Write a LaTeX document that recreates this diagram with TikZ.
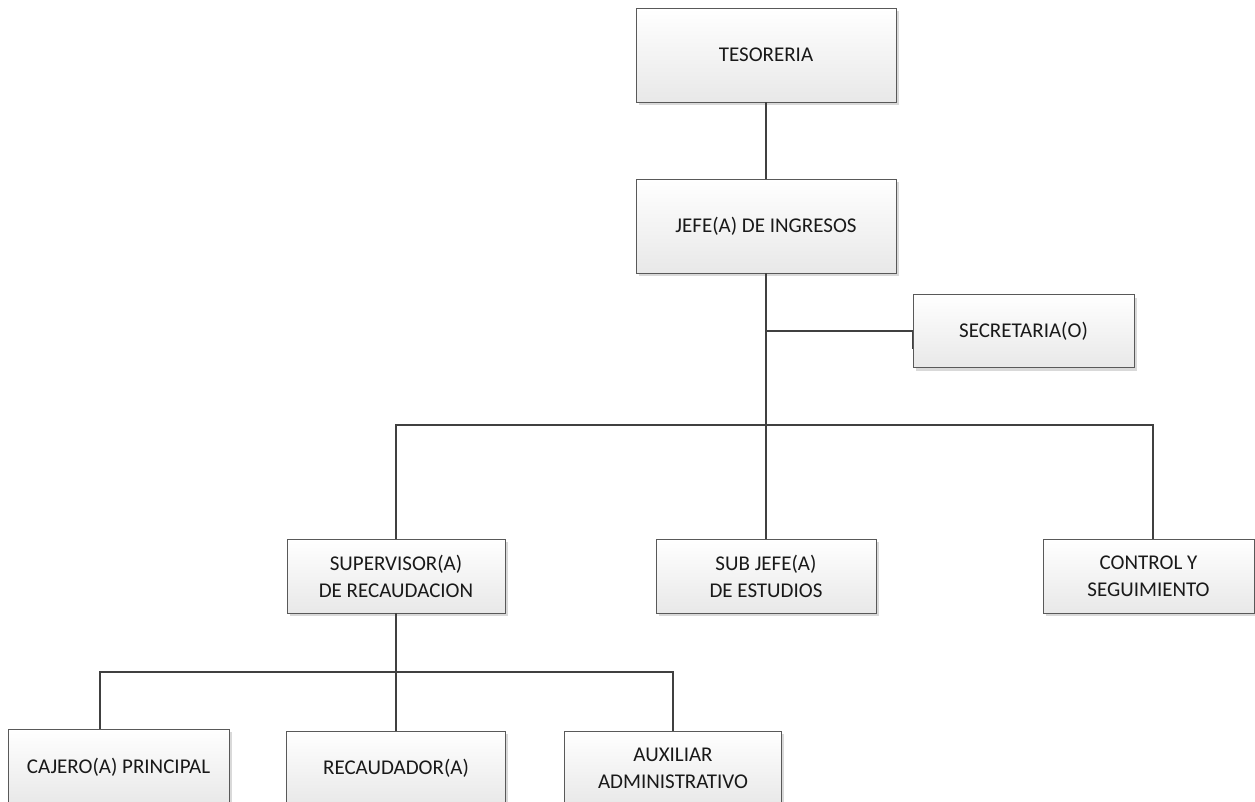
\documentclass[tikz,border=0pt]{standalone}
\usepackage{fontspec}
\setmainfont{Carlito}
\usetikzlibrary{shadows}
\definecolor{linec}{HTML}{404040}
\definecolor{boxedge}{HTML}{595959}
\tikzset{
  orgbox/.style={rectangle, draw=boxedge, line width=0.9pt, top color=white, bottom color=black!9,
    drop shadow={shadow xshift=2.5pt, shadow yshift=-3pt, fill=black!15, opacity=1},
    inner sep=0pt, align=center, font=\fontsize{21}{27}\selectfont, text=black!90},
  conn/.style={draw=linec, line width=1.8pt}
}
\begin{document}
\begin{tikzpicture}[x=1pt,y=-1pt]
\useasboundingbox (0,0) rectangle (1255,802);
% nodes
\node[orgbox, minimum width=260pt, minimum height=94pt] (tes) at (766,55) {TESORERIA};
\node[orgbox, minimum width=260pt, minimum height=94pt] (jefe) at (766,226) {JEFE(A) DE INGRESOS};
\node[orgbox, minimum width=221pt, minimum height=73pt] (sec) at (1023.5,331) {SECRETARIA(O)};
\node[orgbox, minimum width=218pt, minimum height=74pt] (sup) at (396,576) {SUPERVISOR(A)\\DE RECAUDACION};
\node[orgbox, minimum width=220pt, minimum height=74pt] (sub) at (766,576) {SUB JEFE(A)\\DE ESTUDIOS};
\node[orgbox, minimum width=211pt, minimum height=74pt] (ctrl) at (1148.5,576) {CONTROL Y\\SEGUIMIENTO};
\node[orgbox, minimum width=221pt, minimum height=76pt] (caj) at (118.5,767) {CAJERO(A) PRINCIPAL};
\node[orgbox, minimum width=219pt, minimum height=74pt] (rec) at (396,768) {RECAUDADOR(A)};
\node[orgbox, minimum width=217pt, minimum height=74pt] (aux) at (673,768) {AUXILIAR\\ADMINISTRATIVO};
% helper coordinates
\coordinate (secj) at (766,331);
\coordinate (bus) at (766,425);
\coordinate (subbus) at (396,672);
\coordinate (ctrltop) at (1153,539);
\coordinate (cajtop) at (100,729);
% connectors
\draw[conn] (tes.south) -- (jefe.north);
\draw[conn] (jefe.south) -- (sub.north);
\draw[conn] (secj) -- (sec.west);
\draw[conn] (sec.west) -- ++(0,18);
\draw[conn] (sup.north) |- (bus) -| (ctrltop);
\draw[conn] (sup.south) -- (rec.north);
\draw[conn] (cajtop) |- (subbus) -| (aux.north);
\end{tikzpicture}
\end{document}
